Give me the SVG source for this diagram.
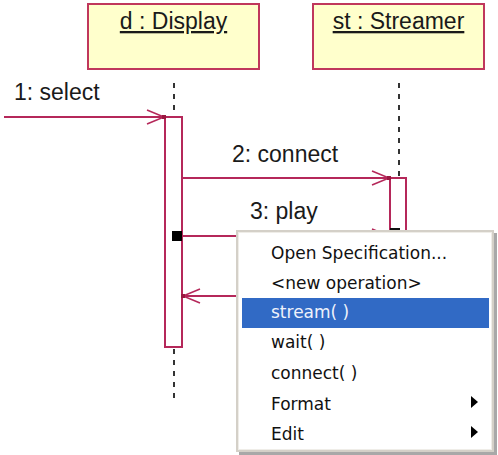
<svg xmlns="http://www.w3.org/2000/svg" width="498" height="455" viewBox="0 0 498 455">
  <defs>
    <style>
      .obj { fill: #ffffcc; stroke: #c0375c; stroke-width: 2; }
      .title { font-family: "Liberation Sans", Arial, sans-serif; font-size: 23px; fill: #1a1a1a; text-anchor: middle; text-decoration: underline; }
      .life { stroke: #333; stroke-width: 2; stroke-dasharray: 5 6; fill: none; }
      .act { fill: #ffffff; stroke: #b5285a; stroke-width: 2; }
      .msg { stroke: #b5285a; stroke-width: 2; fill: none; }
      .head { stroke: #b5285a; stroke-width: 1.6; fill: none; }
      .lbl { font-family: "Liberation Sans", Arial, sans-serif; font-size: 23px; fill: #1a1a1a; }
      .item { font-family: "DejaVu Sans", Verdana, sans-serif; font-size: 17px; fill: #111; }
    </style>
    <marker id="open" markerWidth="20" markerHeight="16" refX="18" refY="8" orient="auto" markerUnits="userSpaceOnUse">
      <path d="M1,1 L18,8 L1,15" class="head"/>
      <rect x="16" y="6" width="4" height="4" fill="#9a1840"/>
    </marker>
  </defs>

  <!-- object boxes -->
  <g id="display">
    <rect class="obj" x="88" y="4" width="171" height="65"/>
    <text class="title" x="173.5" y="29">d : Display</text>
    <line class="life" x1="174" y1="83" x2="174" y2="116"/>
    <line class="life" x1="174" y1="349" x2="174" y2="398"/>
    <rect class="act" x="165" y="117" width="17" height="230"/>
    <rect x="172" y="231" width="10" height="10" fill="#000"/>
  </g>

  <g id="streamer">
    <rect class="obj" x="313" y="4" width="171" height="65"/>
    <text class="title" x="398.5" y="29">st : Streamer</text>
    <line class="life" x1="399" y1="83" x2="399" y2="178"/>
    <rect class="act" x="390" y="178" width="16" height="70"/>
    <rect x="390" y="228" width="10" height="4" fill="#111"/>
  </g>

  <!-- messages -->
  <g id="connectors">
    <line class="msg" x1="4" y1="117" x2="164" y2="117" marker-end="url(#open)"/>
    <text class="lbl" x="14" y="100">1: select</text>

    <line class="msg" x1="182" y1="178" x2="389" y2="178" marker-end="url(#open)"/>
    <text class="lbl" x="232" y="162">2: connect</text>

    <line class="msg" x1="182" y1="236" x2="389" y2="236" marker-end="url(#open)"/>
    <text class="lbl" x="250" y="219">3: play</text>

    <line class="msg" x1="260" y1="296" x2="183" y2="296" marker-end="url(#open)"/>
  </g>

  <!-- context menu -->
  <g id="menu">
    <rect x="239" y="233" width="258" height="222" fill="#a8a8a8"/>
    <rect x="237" y="231" width="256" height="220" fill="#ffffff" stroke="#d4d0c8" stroke-width="2"/>
    <rect x="238.5" y="232.5" width="253" height="217" fill="none" stroke="#efede8" stroke-width="1"/>
    <rect x="242" y="298" width="247" height="30" fill="#316ac5"/>
    <text class="item" x="271" y="259">Open Specification...</text>
    <text class="item" x="271" y="289">&lt;new operation&gt;</text>
    <text class="item" x="271" y="318" fill="#ffffff" style="fill:#eef2fb">stream( )</text>
    <text class="item" x="271" y="348">wait( )</text>
    <text class="item" x="271" y="379">connect( )</text>
    <text class="item" x="271" y="410">Format</text>
    <text class="item" x="271" y="440">Edit</text>
    <path d="M471,396 L478,402 L471,408 Z" fill="#000"/>
    <path d="M471,426 L478,432 L471,438 Z" fill="#000"/>
  </g>
</svg>
